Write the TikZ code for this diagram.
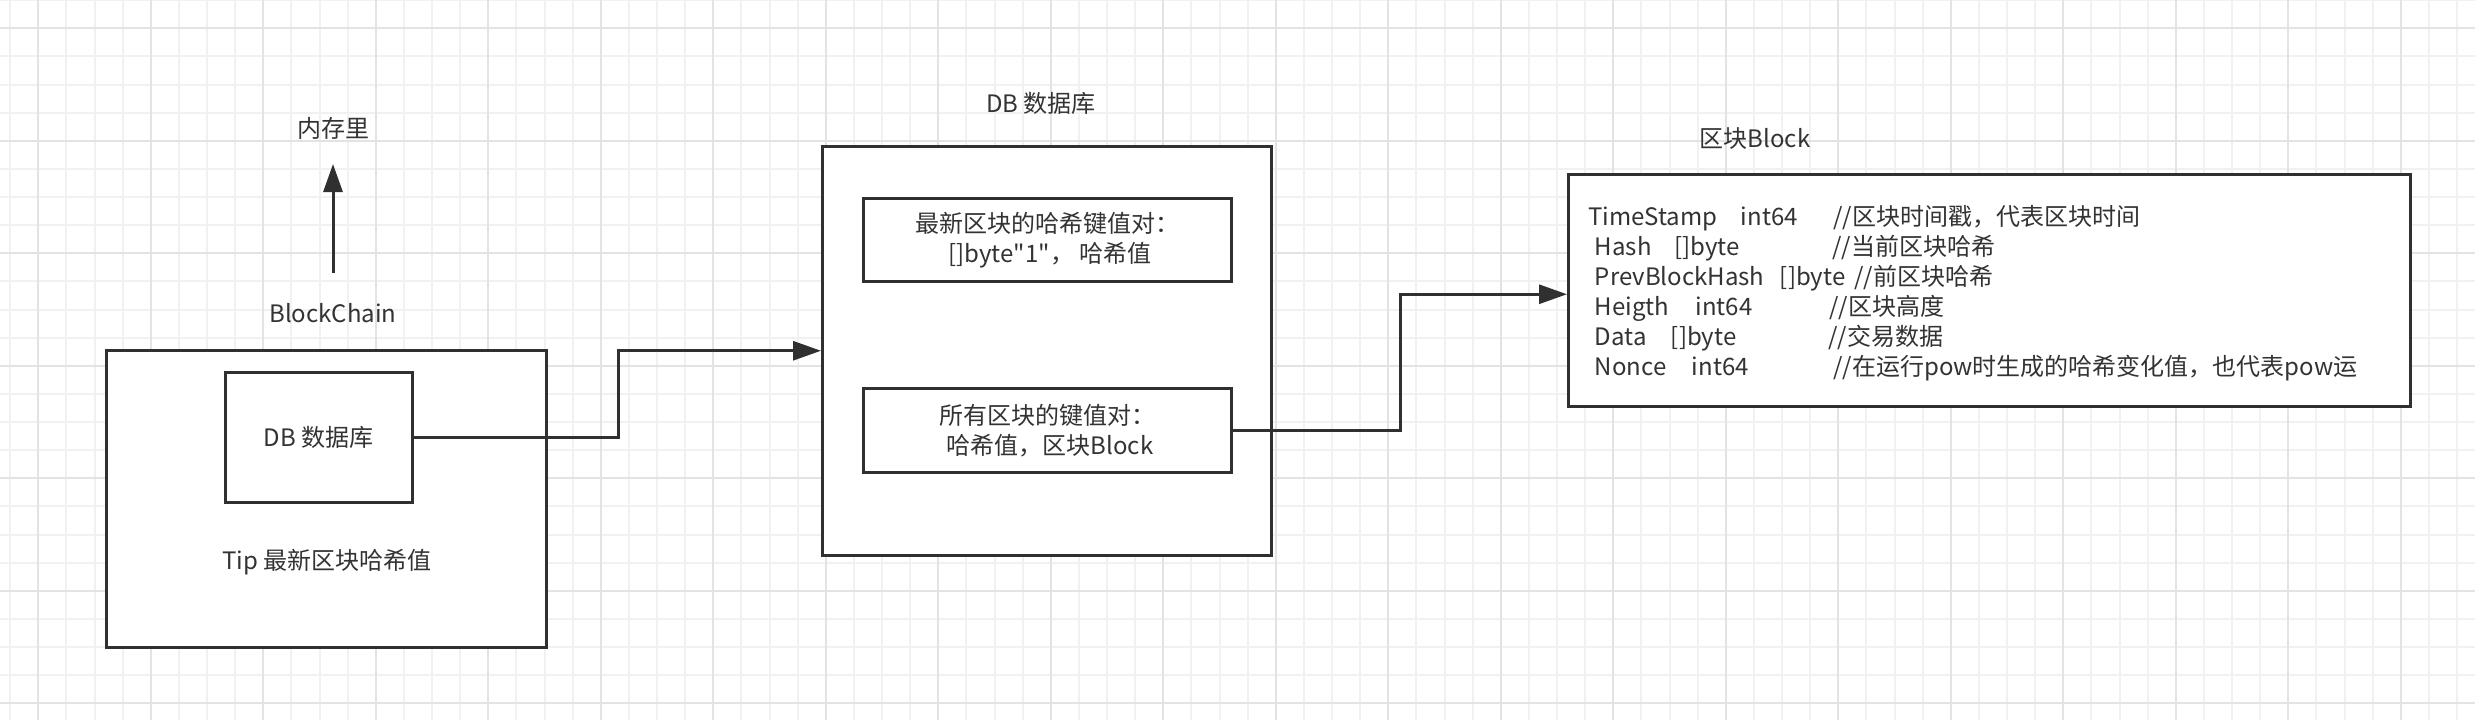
\documentclass[tikz,border=0pt]{standalone}
\usepackage{fontspec}
\newfontfamily\dgfont{Noto Sans CJK SC}
\usetikzlibrary{arrows.meta}
\definecolor{ln}{HTML}{303030}
\definecolor{tx}{HTML}{333333}
\definecolor{gminor}{HTML}{F1F1F1}
\definecolor{gmajor}{HTML}{E3E3E3}
\begin{document}
\begin{tikzpicture}[x=0.5pt,y=-0.5pt,
  every node/.style={font=\dgfont\fontsize{12}{15}\selectfont, text=tx},
  box/.style={draw=ln, line width=1.5pt, fill=white, rectangle, inner sep=0pt},
  conn/.style={draw=ln, line width=1.5pt},
  arr/.style={conn, -{Triangle[length=14pt,width=9.5pt]}},
  lbl/.style={inner sep=0pt},
  fld/.style={anchor=base west, inner sep=0pt},
  gridminor/.style={draw=gminor, line width=1pt},
  gridmajor/.style={draw=gmajor, line width=1pt},
]
\fill[white] (0,0) rectangle (2475,720);
\useasboundingbox (0,0) rectangle (2475,720);
\begin{scope}
  \clip (0,0) rectangle (2475,720);
  \foreach \i in {0,...,87} \draw[gridminor] ({10.2+28.125*\i},0) -- ++(0,720);
  \foreach \j in {0,...,25} \draw[gridminor] (0,{0.2+28.125*\j}) -- ++(2475,0);
  \foreach \i in {0,...,21} \draw[gridmajor] ({38.3+112.5*\i},0) -- ++(0,720);
  \foreach \j in {0,...,6} \draw[gridmajor] (0,{28.3+112.5*\j}) -- ++(2475,0);
\end{scope}

% BlockChain
\node[box, minimum width=220pt, minimum height=148.5pt] (bc) at (326,498.5) {};
\node[box, minimum width=93.75pt, minimum height=65.25pt] (dbin) at (318.75,437.25) {DB 数据库};
\node[lbl] (tip) at (327,561.7) {Tip 最新区块哈希值};
\node[lbl] (bclbl) at (333,313) {BlockChain};
\node[lbl] (mem) at (333,128) {内存里};
\coordinate (upS) at (333,272.5);
\coordinate (upT) at (333,164);
\draw[arr] (upS) -- (upT);

% DB
\node[box, minimum width=224.5pt, minimum height=204.75pt] (db) at (1047,350.75) {};
\node[lbl] (dbtitle) at (1041,103) {DB 数据库};
\node[box, minimum width=183.75pt, minimum height=41.75pt, align=center] (kv1) at (1047.25,239.75) {最新区块的哈希键值对：\\\ []byte"1"，\ 哈希值};
\node[box, minimum width=183.75pt, minimum height=42pt, align=center] (kv2) at (1047.25,430.5) {所有区块的键值对：\\\ 哈希值，区块Block};

% Block
\node[box, minimum width=420.75pt, minimum height=115.75pt] (blk) at (1989.25,290.25) {};
\node[lbl] (blktitle) at (1755,138.3) {区块Block};

\node[fld] (f1a) at (1588,225.5) {TimeStamp};
\node[fld] (f1b) at (1740.5,225.5) {int64};
\node[fld] (f1c) at (1833,225.5) {//区块时间戳，代表区块时间};
\node[fld] (f2a) at (1594.5,255.5) {Hash};
\node[fld] (f2b) at (1674,255.5) {[]byte};
\node[fld] (f2c) at (1832,255.5) {//当前区块哈希};
\node[fld] (f3a) at (1594.5,285.5) {PrevBlockHash};
\node[fld] (f3b) at (1779.5,285.5) {[]byte};
\node[fld] (f3c) at (1854,285.5) {//前区块哈希};
\node[fld] (f4a) at (1594.5,315.5) {Heigth};
\node[fld] (f4b) at (1695,315.5) {int64};
\node[fld] (f4c) at (1829,315.5) {//区块高度};
\node[fld] (f5a) at (1594.5,345.5) {Data};
\node[fld] (f5b) at (1670.5,345.5) {[]byte};
\node[fld] (f5c) at (1828,345.5) {//交易数据};
\node[fld] (f6a) at (1594.5,375.5) {Nonce};
\node[fld] (f6b) at (1691.5,375.5) {int64};
\node[fld] (f6c) at (1833,375.5) {//在运行pow时生成的哈希变化值，也代表pow运};

% connectors
\draw[arr] (dbin.east) -- ++(204.5,0) |- (db.west);
\draw[arr] (kv2.east) -- ++(168,0) |- ([yshift=-2pt]blk.west);
\end{tikzpicture}
\end{document}
